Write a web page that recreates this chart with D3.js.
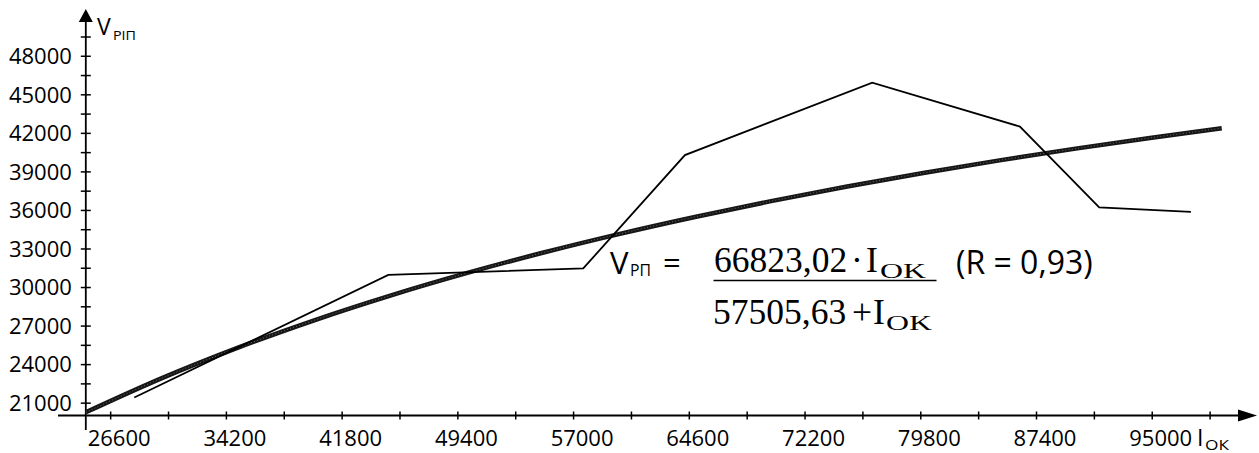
<!DOCTYPE html>
<html>
<head>
<meta charset="utf-8">
<script src="https://cdn.jsdelivr.net/npm/d3@7"></script>
<style>
  html, body { margin: 0; padding: 0; background: #fff; }
  svg { display: block; }
  text { font-family: "Open Sans", "Noto Sans", sans-serif; fill: #000; }
  .serif { font-family: "Liberation Serif", "Times New Roman", serif; }
</style>
</head>
<body>
<svg id="chart" width="1259" height="453"></svg>
<script>
// ---- data ----
const dataI = [28185, 44864, 57668, 64346, 76645, 86344, 91550, 97572];
const dataV = [21400, 30950, 31450, 40270, 45900, 42490, 36200, 35850];

// trend curve V = 66823,02*I/(57505,63+I)
const trendI = [25000, 30000, 35000, 40000, 45000, 50000, 55000, 60000, 65000, 70000, 75000, 80000, 85000, 90000, 95000, 99600];
const trendV = [20248, 22909, 25283, 27413, 29335, 31079, 32667, 34121, 35455, 36686, 37823, 38877, 39858, 40772, 41626, 42364];

const xTicks = [26600, 30400, 34200, 38000, 41800, 45600, 49400, 53200, 57000, 60800, 64600, 68400, 72200, 76000, 79800, 83600, 87400, 91200, 95000, 98800];
const xTickLabels = ["26600", "34200", "41800", "49400", "57000", "64600", "72200", "79800", "87400", "95000"];
const yTicks = [21000, 22500, 24000, 25500, 27000, 28500, 30000, 31500, 33000, 34500, 36000, 37500, 39000, 40500, 42000, 43500, 45000, 46500, 48000, 49500];
const yTickLabels = ["21000", "24000", "27000", "30000", "33000", "36000", "39000", "42000", "45000", "48000"];

// ---- scales ----
const svg = d3.select("#chart");
const x = d3.scaleLinear().domain([25000, 98800]).range([85.8, 1209.6]);
const y = d3.scaleLinear().domain([20000, 49500]).range([415.5, 36.5]);
const x0 = x(25000), y0 = y(20000);

// ---- axes lines with arrows ----
svg.append("line").attr("x1", 58).attr("x2", 1242).attr("y1", y0).attr("y2", y0)
  .attr("stroke", "#000").attr("stroke-width", 1.8);
svg.append("path").attr("d", `M1257,${y0} L1238,${y0 - 6} L1238,${y0 + 6} Z`).attr("fill", "#000");
svg.append("line").attr("x1", x0).attr("x2", x0).attr("y1", 430).attr("y2", 20)
  .attr("stroke", "#000").attr("stroke-width", 1.8);
svg.append("path").attr("d", `M${x0},9 L${x0 - 7},22 L${x0 + 7},22 Z`).attr("fill", "#000");

// ---- x axis ticks ----
const xAxis = d3.axisBottom(x).tickValues(xTicks)
  .tickFormat(d => xTickLabels.includes(String(d)) ? String(d) : "")
  .tickSize(0);
const gx = svg.append("g").attr("transform", `translate(0,${y0})`).call(xAxis);
gx.select(".domain").remove();
gx.selectAll(".tick line").attr("y1", -4).attr("y2", 4).attr("stroke", "#000").attr("stroke-width", 1.5);
gx.selectAll(".tick text").attr("y", 30).attr("dy", 0).attr("dx", 8.5)
  .style("font-size", "22px").style("font-family", "'Open Sans', sans-serif").attr("fill", "#000");

// ---- y axis ticks ----
const yAxis = d3.axisLeft(y).tickValues(yTicks)
  .tickFormat(d => yTickLabels.includes(String(d)) ? String(d) : "")
  .tickSize(0);
const gy = svg.append("g").attr("transform", `translate(${x0},0)`).call(yAxis);
gy.select(".domain").remove();
gy.selectAll(".tick line").attr("x1", -5).attr("x2", 5).attr("stroke", "#000").attr("stroke-width", 1.5);
gy.selectAll(".tick text").attr("x", -14).attr("dy", "0.35em")
  .style("font-size", "22px").style("font-family", "'Open Sans', sans-serif").attr("fill", "#000");

// ---- trend curve (thick, textured) ----
const trend = trendI.map((d, i) => [d, trendV[i]]);
const trendLine = d3.line().x(d => x(d[0])).y(d => y(d[1])).curve(d3.curveMonotoneX);
svg.append("path").attr("d", trendLine(trend)).attr("fill", "none")
  .attr("stroke", "#161616").attr("stroke-width", 4.5);
svg.append("path").attr("d", trendLine(trend)).attr("fill", "none")
  .attr("stroke", "#fff").attr("stroke-opacity", 0.35).attr("stroke-width", 1)
  .attr("stroke-dasharray", "1 2.2");

// ---- data polyline ----
const pts = dataI.map((d, i) => [d, dataV[i]]);
svg.append("path").attr("d", d3.line().x(d => x(d[0])).y(d => y(d[1]))(pts))
  .attr("fill", "none").attr("stroke", "#000").attr("stroke-width", 1.8).attr("stroke-linejoin", "miter");

// ---- axis titles ----
const yl = svg.append("text").attr("x", 97).attr("y", 35).style("font-size", "23px");
yl.append("tspan").text("V");
yl.append("tspan").attr("x", 113).attr("dy", 5).style("font-size", "13px")
  .attr("textLength", 23).attr("lengthAdjust", "spacingAndGlyphs").text("РІП");
const xl = svg.append("text").attr("x", 1197).attr("y", 446).style("font-size", "23px");
xl.append("tspan").text("I");
xl.append("tspan").attr("x", 1205).attr("dy", 4).style("font-size", "14px")
  .attr("textLength", 24).attr("lengthAdjust", "spacingAndGlyphs").text("ОК");

// ---- formula ----
const fv = svg.append("text").attr("x", 610).attr("y", 274).style("font-size", "31px");
fv.append("tspan").text("V");
fv.append("tspan").attr("x", 630).attr("dy", 2).style("font-size", "16px")
  .attr("textLength", 21).attr("lengthAdjust", "spacingAndGlyphs").text("РП");
svg.append("text").attr("x", 663).attr("y", 274).style("font-size", "31px").text("=");
svg.append("line").attr("x1", 713.5).attr("x2", 936.5).attr("y1", 280.5).attr("y2", 280.5)
  .attr("stroke", "#000").attr("stroke-width", 1.4);

const num = svg.append("text").attr("class", "serif").attr("x", 714).attr("y", 272).style("font-size", "35.5px");
num.append("tspan").text("66823,02");
num.append("tspan").attr("x", 851).text("·");
num.append("tspan").attr("x", 866).text("I");
num.append("tspan").attr("x", 880).attr("dy", 6).style("font-size", "22px")
  .attr("textLength", 46).attr("lengthAdjust", "spacingAndGlyphs").text("OK");

const den = svg.append("text").attr("class", "serif").attr("x", 713).attr("y", 324).style("font-size", "35.5px");
den.append("tspan").text("57505,63");
den.append("tspan").attr("x", 852).text("+");
den.append("tspan").attr("x", 873).text("I");
den.append("tspan").attr("x", 886).attr("dy", 6).style("font-size", "22px")
  .attr("textLength", 46).attr("lengthAdjust", "spacingAndGlyphs").text("OK");

svg.append("text").attr("x", 956).attr("y", 274).style("font-size", "32px").text("(R = 0,93)");
</script>
</body>
</html>
